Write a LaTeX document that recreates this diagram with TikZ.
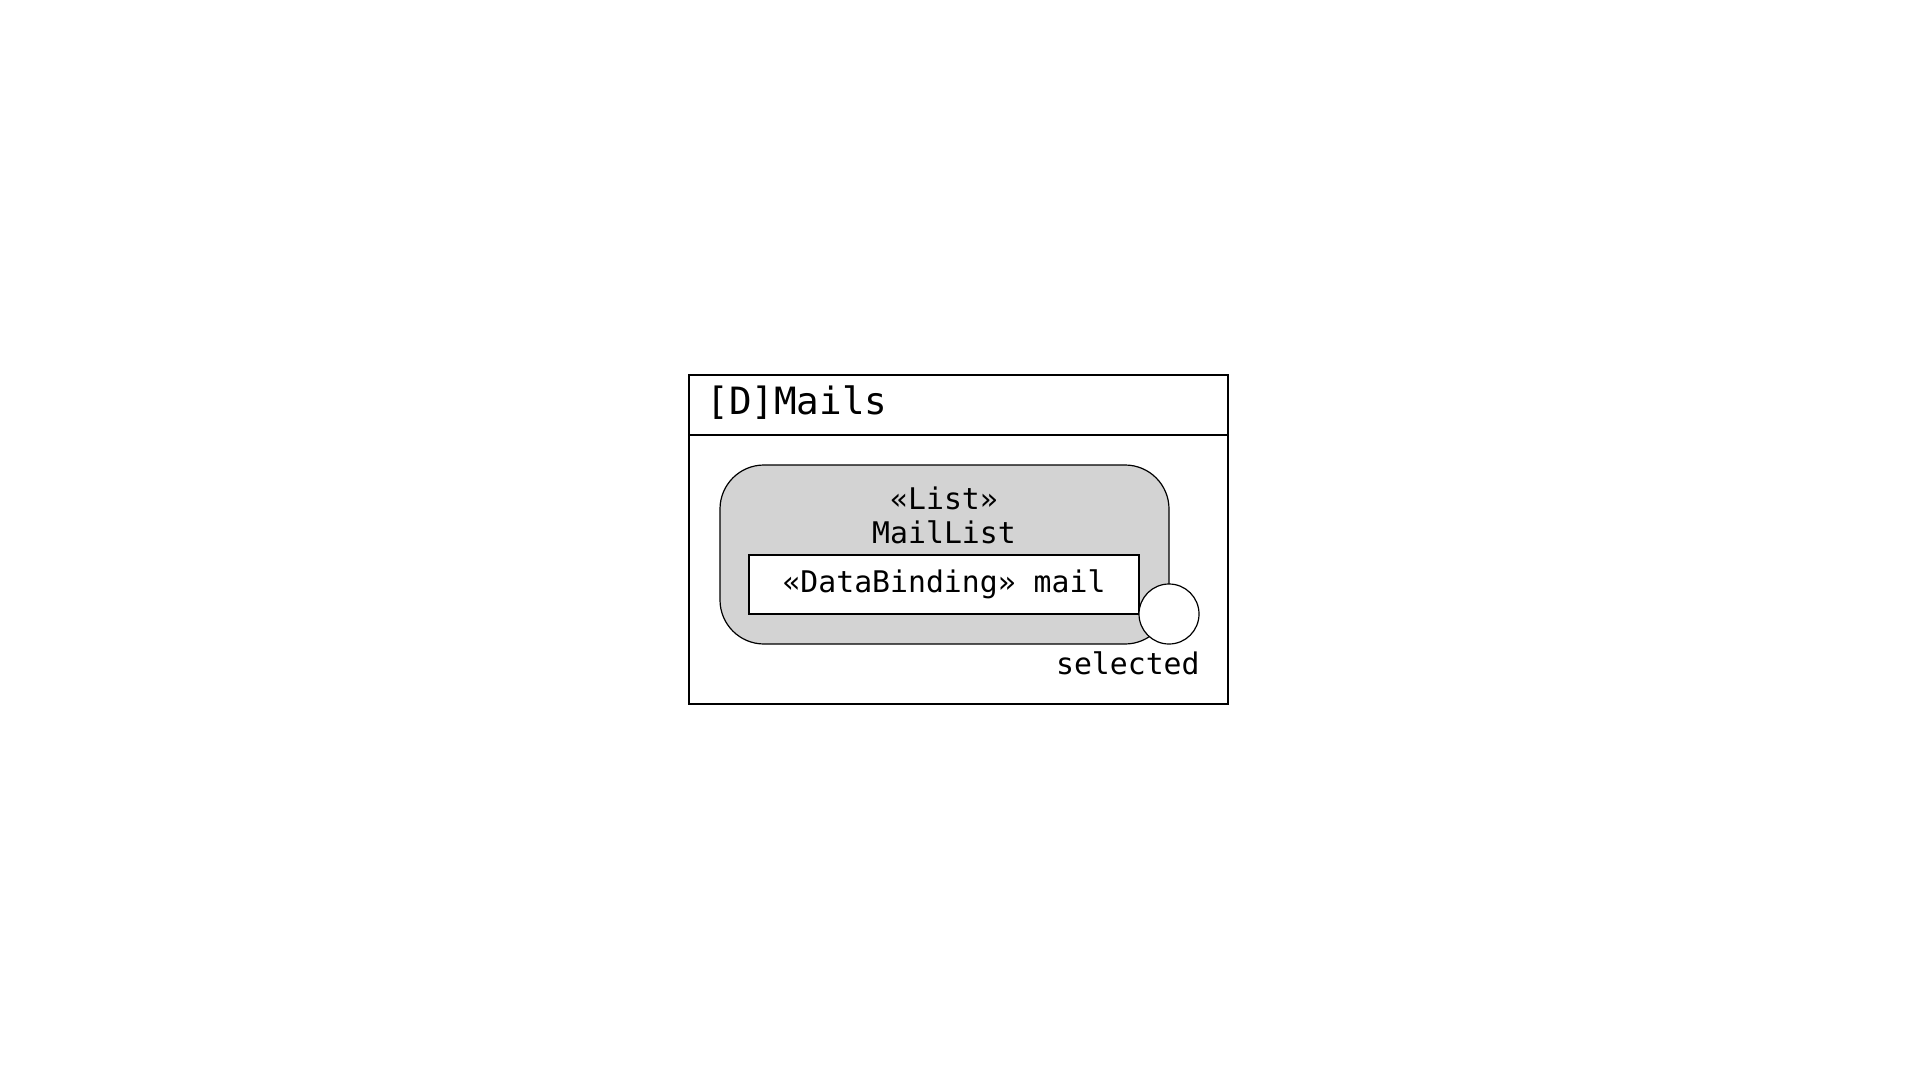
\documentclass[tikz,border=0pt]{standalone}
\usepackage{fontspec}
\setmonofont{DejaVu Sans Mono}
\definecolor{partgray}{RGB}{211,211,211}
\tikzset{
  umlline/.style={line width=0.6pt},
  monotext/.style={font=\ttfamily\fontsize{14.9}{18}\selectfont, inner sep=0pt},
  titletext/.style={font=\ttfamily\fontsize{18.8}{22}\selectfont, inner sep=0pt}
}
\begin{document}
\begin{tikzpicture}[x=0.5pt,y=-0.5pt]
\useasboundingbox (0,0) rectangle (1920,1080);

\coordinate (frameNW) at (689,375);
\coordinate (frameSE) at (1228,704);
\coordinate (titleW) at (689,435);
\coordinate (titleE) at (1228,435);

\coordinate (listNW) at (720,465);
\coordinate (listSE) at (1169,644);

\coordinate (bindNW) at (749,555);
\coordinate (bindSE) at (1139,614);

% outer frame with title compartment
\draw[umlline, fill=white] (frameNW) rectangle (frameSE);
\draw[umlline] (titleW) -- (titleE);
\node[titletext, anchor=base west] (title) at (706,415) {[D]Mails};

% list part
\draw[umlline, fill=partgray, rounded corners=22pt] (listNW) rectangle (listSE);
\node[monotext, anchor=base] (stereo) at (944,509) {«List»};
\node[monotext, anchor=base] (listname) at (944,543) {MailList};

% data binding
\draw[umlline, fill=white] (bindNW) rectangle (bindSE);
\node[monotext, anchor=base] (binding) at (944,592) {«DataBinding» mail};

% port
\node[umlline, draw, circle, fill=white, minimum size=30pt, inner sep=0pt] (selport) at (1169,614) {};
\node[monotext, anchor=base east] (portname) at (1200,674) {selected};

\end{tikzpicture}
\end{document}
